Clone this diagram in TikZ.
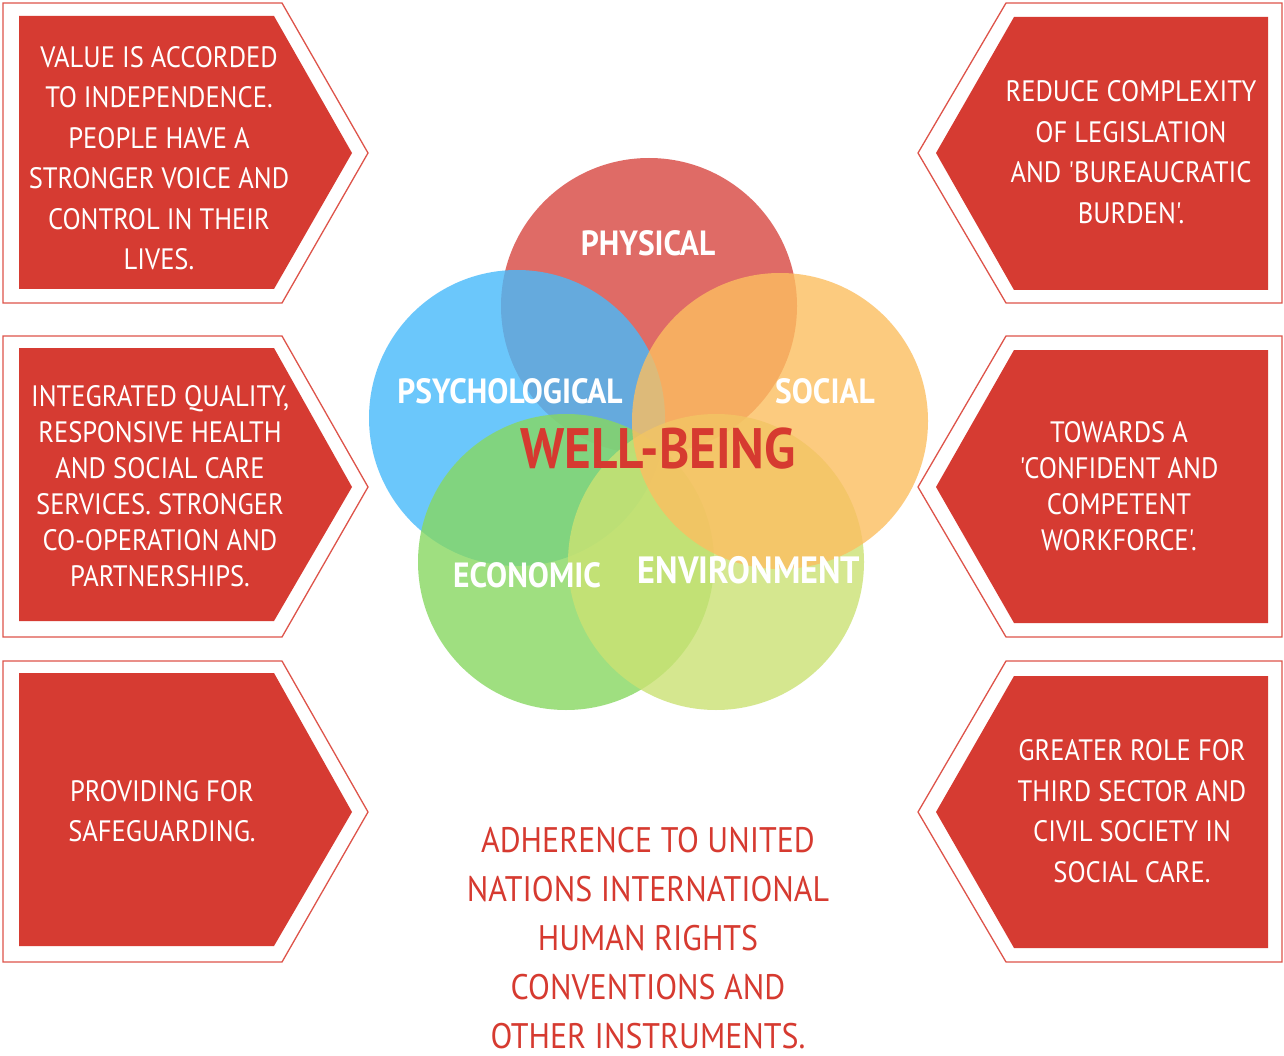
\documentclass[tikz,border=0pt]{standalone}
\usepackage{fontspec}
\newfontfamily\hand[FakeStretch=0.9]{PT Sans}
\definecolor{boxred}{RGB}{214,59,50}
\definecolor{outlinered}{RGB}{222,84,74}
\definecolor{textred}{RGB}{214,58,48}
\definecolor{cRed}{RGB}{216,70,64}
\definecolor{cBlue}{RGB}{71,186,251}
\definecolor{cOrange}{RGB}{252,190,96}
\definecolor{cGreen}{RGB}{135,216,97}
\definecolor{cLime}{RGB}{203,226,115}
\begin{document}
\begin{tikzpicture}[x=1pt,y=-1pt,
  outl/.style={draw=outlinered, line width=1.3pt, fill=white},
  innerfill/.style={fill=boxred},
  boxtxt/.style={text=white, align=center, inner sep=0pt, font=\hand\fontsize{29.5}{40.5}\selectfont},
  boxtxtsm/.style={boxtxt, font=\hand\fontsize{29.5}{36}\selectfont},
  circ/.style={fill opacity=0.8},
  lbl/.style={text=white, inner sep=0pt, font=\hand\bfseries\fontsize{35}{36}\selectfont},
  redtxt/.style={text=textred, align=center, inner sep=0pt, font=\hand\fontsize{35.5}{49}\selectfont}]
\useasboundingbox (0,0) rectangle (1284,1056);
\fill[white] (0,0) rectangle (1284,1056);

% left boxes
\path[outl] (3,3) -- (282,3) -- (368,153) -- (282,303) -- (3,303) -- cycle;
\path[innerfill] (19,16) -- (274,16) -- (352,153) -- (274,289) -- (19,289) -- cycle;
\path[outl] (3,336) -- (282,336) -- (368,487) -- (282,637) -- (3,637) -- cycle;
\path[innerfill] (19,348) -- (274,348) -- (352,487) -- (274,621) -- (19,621) -- cycle;
\path[outl] (3,661) -- (282,661) -- (368,812) -- (282,962) -- (3,962) -- cycle;
\path[innerfill] (19,673) -- (274,673) -- (352,812) -- (274,946) -- (19,946) -- cycle;

% right boxes
\path[outl] (1282,3) -- (1006,3) -- (918,153) -- (1006,303) -- (1282,303) -- cycle;
\path[innerfill] (1268,17) -- (1014,17) -- (936,153) -- (1014,290) -- (1268,290) -- cycle;
\path[outl] (1282,336) -- (1006,336) -- (918,487) -- (1006,637) -- (1282,637) -- cycle;
\path[innerfill] (1268,350) -- (1014,350) -- (936,487) -- (1014,623) -- (1268,623) -- cycle;
\path[outl] (1282,661) -- (1006,661) -- (918,812) -- (1006,962) -- (1282,962) -- cycle;
\path[innerfill] (1268,676) -- (1014,676) -- (936,812) -- (1014,948) -- (1268,948) -- cycle;

% box texts
\node[boxtxt] (t1) at (159,158) {VALUE IS ACCORDED\\TO INDEPENDENCE.\\PEOPLE HAVE A\\STRONGER VOICE AND\\CONTROL IN THEIR\\LIVES.};
\node[boxtxtsm] (t2) at (160,486) {INTEGRATED QUALITY,\\RESPONSIVE HEALTH\\AND SOCIAL CARE\\SERVICES. STRONGER\\CO-OPERATION AND\\PARTNERSHIPS.};
\node[boxtxt] (t3) at (162,811) {PROVIDING FOR\\SAFEGUARDING.};
\node[boxtxt] (t4) at (1131,152) {REDUCE COMPLEXITY\\OF LEGISLATION\\AND 'BUREAUCRATIC\\BURDEN'.};
\node[boxtxtsm] (t5) at (1119,486) {TOWARDS A\\'CONFIDENT AND\\COMPETENT\\WORKFORCE'.};
\node[boxtxt] (t6) at (1132,811) {GREATER ROLE FOR\\THIRD SECTOR AND\\CIVIL SOCIETY IN\\SOCIAL CARE.};

% venn circles
\fill[circ, cRed] (649,306) circle (148);
\fill[circ, cBlue] (517,418) circle (148);
\fill[circ, cGreen] (566,562) circle (148);
\fill[circ, cLime] (716,562) circle (148);
\fill[circ, cOrange] (780,421) circle (148);

\node[lbl] (phys) at (648,243) {PHYSICAL};
\node[lbl] (psych) at (510,391) {PSYCHOLOGICAL};
\node[lbl] (soc) at (825,391) {SOCIAL};
\node[lbl] (eco) at (527,575) {ECONOMIC};
\node[lbl, font=\hand\bfseries\fontsize{38}{40}\selectfont] (env) at (749,570) {ENVIRONMENT};
\node[text=textred, inner sep=0pt, font=\hand\bfseries\fontsize{57}{60}\selectfont] (wb) at (658,449) {WELL-BEING};

% bottom text
\node[redtxt] (un) at (648,938) {ADHERENCE TO UNITED\\NATIONS INTERNATIONAL\\HUMAN RIGHTS\\CONVENTIONS AND\\OTHER INSTRUMENTS.};
\end{tikzpicture}
\end{document}
